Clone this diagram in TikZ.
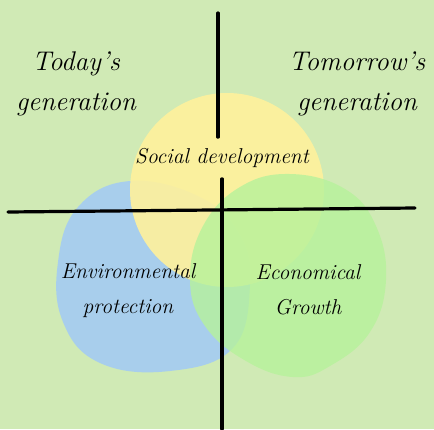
\documentclass[tikz,border=0pt]{standalone}
\definecolor{bgcol}{RGB}{208,234,181}
\definecolor{bluecol}{RGB}{158,200,250}
\definecolor{yellowcol}{RGB}{255,241,156}
\definecolor{greencol}{RGB}{182,242,155}
\begin{document}
\begin{tikzpicture}[x=1pt,y=-1pt,
    blob/.style={fill opacity=0.8},
    axis/.style={line width=3.2pt, line cap=round},
    big/.style={font=\fontsize{27}{40}\selectfont\itshape, align=center},
    txt/.style={font=\fontsize{21.5}{35}\selectfont\itshape, align=center}]
    \fill[bgcol] (0,0) rectangle (434,429);
    \useasboundingbox (0,0) rectangle (434,429);
    \fill[bluecol, blob] plot[smooth cycle, tension=0.7] coordinates {(130,181) (200,197) (240,235) (250,285) (233,348) (170,371) (100,363) (63,322) (58,262) (78,207)};
    \fill[yellowcol, blob, fill opacity=0.9] (227,190) circle (97);
    \fill[greencol, blob] plot[smooth cycle, tension=0.7] coordinates {(290,174) (345,189) (376,226) (386,280) (370,332) (330,366) (293,377) (246,361) (205,326) (190,280) (203,226) (240,187)};
    \node (today) [big] at (76,84) {Today's\\generation};
    \node (tomorrow) [big] at (357,84) {Tomorrow's\\generation};
    \node (social) [txt, inner ysep=11pt] at (222,158) {Social development};
    \node (environment) [txt] at (128,291) {Environmental\\protection};
    \node (economy) [txt] at (308,290) {Economical\\Growth};
    \coordinate (vtop) at (218,13);
    \coordinate (vbot) at (222,429);
    \coordinate (hleft) at (8,212);
    \coordinate (hright) at (415,208);
    \draw[axis] (vtop) -- (vtop |- social.north);
    \draw[axis] (vbot |- social.south) -- (vbot);
    \draw[axis] (hleft) -- (hright);
\end{tikzpicture}
\end{document}
